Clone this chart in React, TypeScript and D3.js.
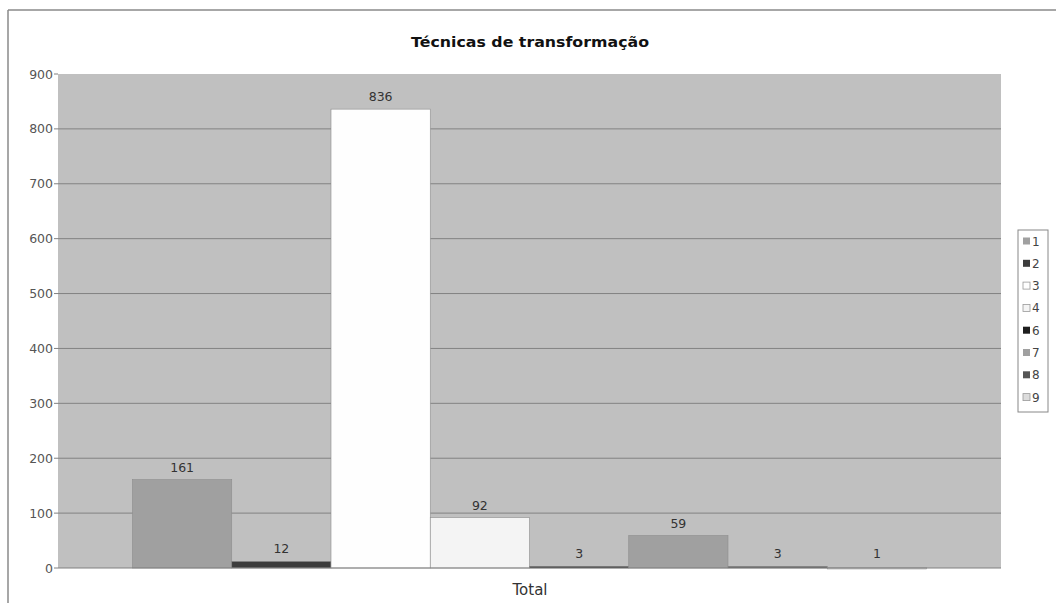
import React from "react";
import * as d3 from "d3";

const series = ["1", "2", "3", "4", "6", "7", "8", "9"];
const values = [161, 12, 836, 92, 3, 59, 3, 1];
const colors = ["#a0a0a0", "#3c3c3c", "#fefefe", "#f4f4f4", "#1e1e1e", "#a0a0a0", "#555555", "#dcdcdc"];
const yTicks = [0, 100, 200, 300, 400, 500, 600, 700, 800, 900];
const category = "Total";
const title = "Técnicas de transformação";

const W = 1056, H = 603;
const plot = { left: 58, right: 1001, top: 74, bottom: 568 };

export default function App() {
  const y = d3.scaleLinear().domain([0, 900]).range([plot.bottom, plot.top]);
  const inner = d3.scaleBand().domain(series).range([plot.left + 74.5, plot.right - 74.5]).paddingInner(0).paddingOuter(0);
  const font = "'DejaVu Sans', Verdana, sans-serif";
  const legTop = 230, legStep = 22.3;
  return (
    <svg width={W} height={H} style={{ position: "absolute", left: 0, top: 0, background: "#fff" }} fontFamily={font}>
      <rect x={0} y={0} width={W} height={H} fill="#fff" />
      <line x1={8} x2={W} y1={10} y2={10} stroke="#8a8a8a" strokeWidth={1.5} />
      <line x1={8} x2={8} y1={10} y2={H} stroke="#8a8a8a" strokeWidth={1.5} />
      <text x={530} y={47} textAnchor="middle" fontSize={14.5} fontWeight="bold" fill="#111" textLength={238} lengthAdjust="spacingAndGlyphs">{title}</text>
      <rect x={plot.left} y={plot.top} width={plot.right - plot.left} height={plot.bottom - plot.top} fill="#c0c0c0" />
      {yTicks.map((t) => (
        <g key={t}>
          {t > 0 && t < 900 && <line x1={plot.left} x2={plot.right} y1={y(t)} y2={y(t)} stroke="#828282" strokeWidth={1} />}
          <line x1={plot.left - 4} x2={plot.left} y1={y(t)} y2={y(t)} stroke="#808080" />
          <text x={plot.left - 5} y={y(t) + 4.5} textAnchor="end" fontSize={12.5} fill="#555">{t}</text>
        </g>
      ))}
      {series.map((s, i) => {
        const v = values[i];
        const x0 = inner(s)!;
        const bw = inner.bandwidth();
        const yy = y(v);
        return (
          <g key={s}>
            <rect x={x0} y={yy} width={bw} height={Math.max(plot.bottom - yy, 1.5)} fill={colors[i]} stroke="#8c8c8c" strokeWidth={0.6} />
            <text x={x0 + bw / 2} y={Math.min(yy, plot.bottom - 2) - 8} textAnchor="middle" fontSize={12.5} fill="#333">{v}</text>
          </g>
        );
      })}
      <line x1={plot.left} x2={plot.right} y1={plot.bottom} y2={plot.bottom} stroke="#808080" />
      <text x={530} y={595} textAnchor="middle" fontSize={15} fill="#333">{category}</text>
      <rect x={1018} y={legTop} width={30} height={182} fill="#fff" stroke="#888" strokeWidth={1} />
      {series.map((s, i) => {
        const cy = legTop + 11 + i * legStep;
        return (
          <g key={s}>
            <rect x={1023} y={cy - 3.5} width={7} height={7} fill={colors[i]} stroke={i === 2 || i === 3 || i === 7 ? "#999" : "none"} strokeWidth={0.8} />
            <text x={1032} y={cy + 4.5} fontSize={12} fill="#444">{s}</text>
          </g>
        );
      })}
    </svg>
  );
}
